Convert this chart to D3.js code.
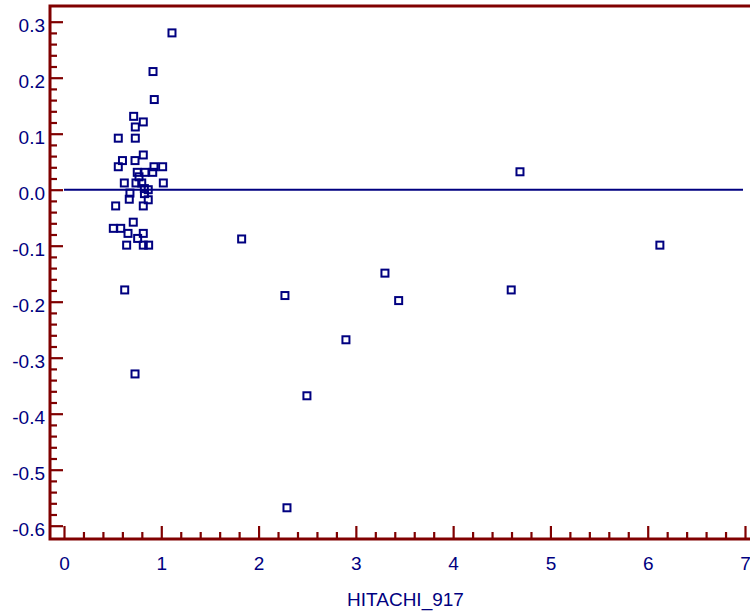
<!DOCTYPE html>
<html>
<head>
<meta charset="utf-8">
<script src="https://cdn.jsdelivr.net/npm/d3@7"></script>
<style>
  html, body { margin: 0; padding: 0; background: #fff; }
  svg { display: block; }
  .tick text { font-family: "Liberation Sans", Arial, sans-serif; }
</style>
</head>
<body>
<svg id="chart" width="750" height="611"></svg>
<script>
// Measured values (x) and their differences (y)
const hitachi917 = [
  1.11, 0.915, 0.928, 0.716, 0.815, 0.733, 0.558, 0.733, 0.815, 0.601,
  0.730, 0.558, 0.925, 1.014, 0.753, 0.832, 0.912, 0.771, 0.620, 0.740,
  1.021, 0.826, 0.866, 0.678, 0.827, 0.671, 0.866, 0.531, 0.815, 0.712,
  0.507, 0.583, 0.658, 0.815, 0.757, 0.644, 0.815, 0.870, 0.624, 0.730,
  1.826, 2.271, 2.497, 2.292, 2.898, 3.299, 3.440, 4.687, 4.597, 6.125,
  0.799
];
const difference = [
  0.280, 0.211, 0.161, 0.131, 0.121, 0.112, 0.092, 0.092, 0.062, 0.052,
  0.052, 0.041, 0.041, 0.041, 0.031, 0.031, 0.031, 0.023, 0.012, 0.012,
  0.012, 0.002, 0.000, -0.006, -0.007, -0.017, -0.018, -0.029, -0.029, -0.058,
  -0.069, -0.069, -0.078, -0.078, -0.087, -0.099, -0.099, -0.099, -0.179, -0.329,
  -0.088, -0.189, -0.368, -0.568, -0.268, -0.149, -0.198, 0.032, -0.179, -0.099,
  0.012
];

const xTicks = [0, 1, 2, 3, 4, 5, 6, 7];
const yTicks = [-0.6, -0.5, -0.4, -0.3, -0.2, -0.1, 0.0, 0.1, 0.2, 0.3];
const xLabel = "HITACHI_917";

const axisColor = "#800000";
const inkColor = "#000080";
const fontSize = 19;

const frame = { left: 50, right: 750, top: 6, bottom: 539 };

const x = d3.scaleLinear().domain([0, 7]).range([64, 745]);
const y = d3.scaleLinear().domain([-0.6, 0.3]).range([525.7, 21.7]);

const svg = d3.select("#chart");

// Minor tick positions, skipping the majors
const xMinor = d3.range(0, 70.01, 2).map(v => v / 10).filter(v => Math.abs(v - Math.round(v)) > 1e-6);
const yMinor = d3.range(-60, 30.01, 2).map(v => v / 100).filter(v => Math.abs(v * 10 - Math.round(v * 10)) > 1e-6);

// Tick labels use a plain hyphen for negatives
const fmtY = d => d3.format(".1f")(d).replace("\u2212", "-");

// Zero reference line
svg.append("line")
  .attr("x1", x(0)).attr("x2", x(7) - 2)
  .attr("y1", y(0)).attr("y2", y(0))
  .attr("stroke", inkColor).attr("stroke-width", 2);

// Data points: open squares
const pts = d3.zip(hitachi917, difference);
svg.append("g").selectAll("rect")
  .data(pts)
  .join("rect")
  .attr("x", d => x(d[0]) - 3.5)
  .attr("y", d => y(d[1]) - 3.5)
  .attr("width", 7).attr("height", 7)
  .attr("fill", "none")
  .attr("stroke", inkColor)
  .attr("stroke-width", 2);

function styleAxis(g) {
  g.select(".domain").remove();
  g.selectAll(".tick line").attr("stroke", axisColor).attr("stroke-width", 2.2);
  g.selectAll(".tick text")
    .attr("fill", inkColor)
    .style("font-size", fontSize + "px");
}

// X axis: minor then major ticks, pointing up into the plot
svg.append("g")
  .attr("transform", `translate(0,${frame.bottom})`)
  .call(d3.axisBottom(x).tickValues(xMinor).tickSize(-7).tickFormat(""))
  .call(styleAxis);
svg.append("g")
  .attr("transform", `translate(0,${frame.bottom})`)
  .call(d3.axisBottom(x).tickValues(xTicks).tickSize(-13).tickPadding(18).tickFormat(d3.format("d")))
  .call(styleAxis);

// Y axis: minor then major ticks, pointing right into the plot
svg.append("g")
  .attr("transform", `translate(${frame.left},0)`)
  .call(d3.axisLeft(y).tickValues(yMinor).tickSize(-7).tickFormat(""))
  .call(styleAxis);
svg.append("g")
  .attr("transform", `translate(${frame.left},0)`)
  .call(d3.axisLeft(y).tickValues(yTicks).tickSize(-13).tickPadding(5).tickFormat(fmtY))
  .call(styleAxis)
  .call(g => g.selectAll(".tick text").attr("dy", "0.52em"));

// Frame: left, top and bottom borders
const border = svg.append("g").attr("stroke", axisColor).attr("stroke-width", 3).attr("fill", "none");
border.append("path")
  .attr("d", `M${frame.right},${frame.top}H${frame.left}V${frame.bottom}H${frame.right}`);

// Axis title
svg.append("text")
  .attr("x", (x(0) + x(7)) / 2 + 1)
  .attr("y", 606)
  .attr("text-anchor", "middle")
  .attr("fill", inkColor)
  .style("font-family", "'Liberation Sans', Arial, sans-serif")
  .style("font-size", fontSize + "px")
  .text(xLabel);
</script>
</body>
</html>
